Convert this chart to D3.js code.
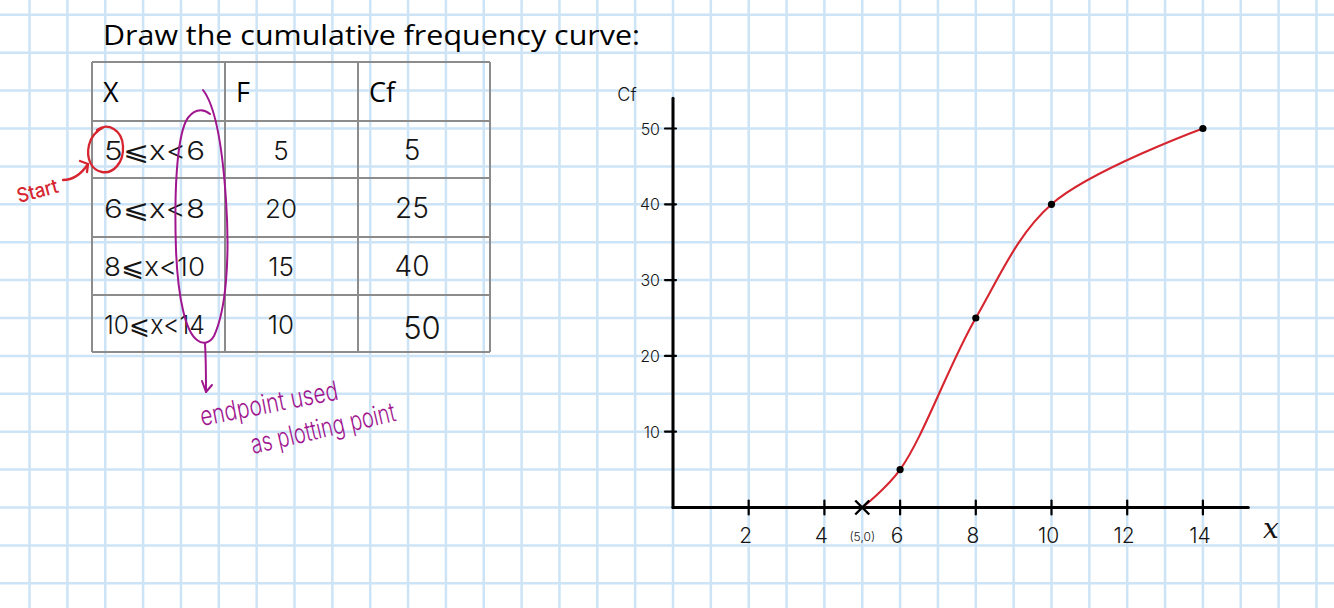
<!DOCTYPE html>
<html>
<head>
<meta charset="utf-8">
<script src="https://cdn.jsdelivr.net/npm/d3@7"></script>
<style>
  html, body { margin: 0; padding: 0; background: #ffffff; }
  svg { display: block; }
</style>
</head>
<body>
<svg id="chart" width="1334" height="608"></svg>
<script>
// ---------------- DATA ----------------
const title = "Draw the cumulative frequency curve:";
const headers = ["X", "F", "Cf"];
const classes = ["5⩽x<6", "6⩽x<8", "8⩽x<10", "10⩽x<14"];
const lowerBounds = [5, 6, 8, 10];
const upperBounds = [6, 8, 10, 14];
const freq = [5, 20, 15, 10];
const cumFreq = [5, 25, 40, 50];
const xTicks = [2, 4, 6, 8, 10, 12, 14];
const yTicks = [10, 20, 30, 40, 50];
const startLabel = "(5,0)";
const xAxisTitle = "x";
const yAxisTitle = "Cf";
const noteStart = "Start";
const noteLine1 = "endpoint used";
const noteLine2 = "as plotting point";

// ---------------- LAYOUT ----------------
const W = 1334, H = 608;
const svg = d3.select("#chart");
const handFont = "Inter, 'Noto Sans', sans-serif";
const typeFont = "'Open Sans', 'Noto Sans', sans-serif";
const red = "#d6252f", purple = "#a0168f", gridCol = "#cce4f6", ink = "#151515";

const unitX = 37.85;               // one grid square = 1 unit in x
const x = d3.scaleLinear().domain([0, 14]).range([673, 673 + 14 * unitX]);
const y = d3.scaleLinear().domain([0, 50]).range([507.5, 128.5]);

// background grid (one square = 1 x-unit = 5 cf-units)
const gGrid = svg.append("g");
gGrid.selectAll("line.v").data(d3.range(-18, 18)).join("line")
  .attr("x1", d => x(d)).attr("x2", d => x(d)).attr("y1", 0).attr("y2", H)
  .attr("stroke", gridCol).attr("stroke-width", 2.5);
gGrid.selectAll("line.h").data(d3.range(-15, 70, 5)).join("line")
  .attr("y1", d => y(d)).attr("y2", d => y(d)).attr("x1", 0).attr("x2", W)
  .attr("stroke", gridCol).attr("stroke-width", 2.5);

// ---------------- TITLE ----------------
svg.append("text").attr("x", 103).attr("y", 45)
  .attr("font-family", typeFont).attr("font-size", 27).attr("fill", "#000")
  .attr("textLength", 537).attr("lengthAdjust", "spacingAndGlyphs")
  .text(title);

// ---------------- TABLE ----------------
const colEdges = [92, 225, 358, 490];
const rowEdges = [62, 121, 178, 237, 295, 352];
const gT = svg.append("g");
gT.selectAll("line.c").data(colEdges).join("line")
  .attr("x1", d => d).attr("x2", d => d).attr("y1", rowEdges[0]).attr("y2", rowEdges[rowEdges.length - 1])
  .attr("stroke", "#8c8c8c").attr("stroke-width", 2);
gT.selectAll("line.r").data(rowEdges).join("line")
  .attr("y1", d => d).attr("y2", d => d).attr("x1", colEdges[0]).attr("x2", colEdges[colEdges.length - 1])
  .attr("stroke", "#8c8c8c").attr("stroke-width", 2);

gT.selectAll("text.hd").data(headers).join("text")
  .attr("x", (d, i) => colEdges[i] + 11).attr("y", (rowEdges[0] + rowEdges[1]) / 2 + 10)
  .attr("font-family", typeFont).attr("font-size", 27).attr("fill", "#000")
  .text(d => d);

const rowMid = i => (rowEdges[i + 1] + rowEdges[i + 2]) / 2;
gT.selectAll("text.cls").data(classes).join("text")
  .attr("x", 104).attr("y", (d, i) => rowMid(i) + 10)
  .attr("font-family", handFont).attr("font-weight", 300).attr("font-size", 26).attr("fill", ink)
  .attr("textLength", 101).attr("lengthAdjust", "spacingAndGlyphs")
  .text(d => d);
gT.selectAll("text.f").data(freq).join("text")
  .attr("x", 281).attr("y", (d, i) => rowMid(i) + 10).attr("text-anchor", "middle")
  .attr("font-family", handFont).attr("font-weight", 300).attr("font-size", 26).attr("fill", ink)
  .text(d => d);
gT.selectAll("text.cf").data(cumFreq).join("text")
  .attr("x", (d, i) => i === 3 ? 422 : 412).attr("y", (d, i) => rowMid(i) + (i === 3 ? 15 : 10))
  .attr("text-anchor", "middle")
  .attr("font-family", handFont).attr("font-weight", 300).attr("font-size", (d, i) => i === 3 ? 31 : 28).attr("fill", ink)
  .text(d => d);

// ---------------- ANNOTATIONS (table) ----------------
const gA = svg.append("g").attr("fill", "none").attr("stroke-linecap", "round").attr("stroke-linejoin", "round");
// red circle around the first lower bound
gA.append("path")
  .attr("d", "M97,130 C108,122 122,130 123,146 C124,163 113,174 102,172 C91,170 86,158 89,145 C91,136 96,131 104,127")
  .attr("stroke", red).attr("stroke-width", 2.3);
// red arrow
gA.append("path").attr("d", "M63,180 C72,180 80,176 88,164").attr("stroke", red).attr("stroke-width", 2.3);
gA.append("path").attr("d", "M80,161 L88,164 L87,172").attr("stroke", red).attr("stroke-width", 2.3);
svg.append("text").attr("transform", "translate(19,203) rotate(-15)")
  .attr("font-family", handFont).attr("font-weight", 500).attr("font-size", 20).attr("fill", red)
  .attr("textLength", 42).attr("lengthAdjust", "spacingAndGlyphs")
  .text(noteStart);

// purple loop around upper bounds
gA.append("path")
  .attr("d", "M203,90 C214,104 222,140 226,200 C230,260 226,310 214,336 C210,343 203,345 197,340 C186,332 178,300 176,250 C174,190 177,140 186,121 C192,110 202,107 210,114")
  .attr("stroke", purple).attr("stroke-width", 2);
gA.append("path").attr("d", "M205,343 C206,360 206,375 206,392").attr("stroke", purple).attr("stroke-width", 2);
gA.append("path").attr("d", "M202,381 L206,392 L212,385").attr("stroke", purple).attr("stroke-width", 2);
svg.append("text").attr("transform", "translate(202,426) rotate(-11)")
  .attr("font-family", handFont).attr("font-weight", 300).attr("font-size", 27).attr("fill", purple)
  .attr("textLength", 140).attr("lengthAdjust", "spacingAndGlyphs")
  .text(noteLine1);
svg.append("text").attr("transform", "translate(253,454) rotate(-13)")
  .attr("font-family", handFont).attr("font-weight", 300).attr("font-size", 27).attr("fill", purple)
  .attr("textLength", 148).attr("lengthAdjust", "spacingAndGlyphs")
  .text(noteLine2);

// ---------------- AXES ----------------
const gAx = svg.append("g").attr("stroke", "#000").attr("stroke-linecap", "round");
gAx.append("line").attr("x1", x(0)).attr("x2", x(0)).attr("y1", y(54)).attr("y2", y(0))
  .attr("stroke-width", 3);
gAx.append("line").attr("x1", x(0)).attr("x2", x(15.2)).attr("y1", y(0)).attr("y2", y(0))
  .attr("stroke-width", 3);
gAx.selectAll("line.yt").data(yTicks).join("line")
  .attr("x1", x(0) - 8).attr("x2", x(0) + 3).attr("y1", d => y(d)).attr("y2", d => y(d))
  .attr("stroke-width", 2.2);
gAx.selectAll("line.xt").data(xTicks).join("line")
  .attr("x1", d => x(d)).attr("x2", d => x(d)).attr("y1", y(0) - 7).attr("y2", y(0) + 7)
  .attr("stroke-width", 2.2);

svg.selectAll("text.yl").data(yTicks).join("text")
  .attr("x", x(0) - 13).attr("y", d => y(d) + 6).attr("text-anchor", "end")
  .attr("font-family", handFont).attr("font-weight", 300).attr("font-size", 16).attr("fill", ink)
  .text(d => d);
svg.selectAll("text.xl").data(xTicks).join("text")
  .attr("x", d => x(d) - 3).attr("y", 543).attr("text-anchor", "middle")
  .attr("font-family", handFont).attr("font-weight", 300).attr("font-size", 21).attr("fill", ink)
  .text(d => d);

svg.append("text").attr("x", 627).attr("y", 101).attr("text-anchor", "middle")
  .attr("font-family", handFont).attr("font-weight", 300).attr("font-size", 18).attr("fill", ink)
  .text(yAxisTitle);
svg.append("text").attr("x", 1271).attr("y", 538).attr("text-anchor", "middle")
  .attr("font-family", "'DejaVu Serif', serif").attr("font-style", "italic").attr("font-size", 28).attr("fill", ink)
  .text(xAxisTitle);

// ---------------- CURVE ----------------
const pts = [[lowerBounds[0], 0]].concat(upperBounds.map((u, i) => [u, cumFreq[i]]));
const line = d3.line().x(d => x(d[0])).y(d => y(d[1])).curve(d3.curveCatmullRom.alpha(0.5));
svg.append("path").datum(pts).attr("d", line)
  .attr("fill", "none").attr("stroke", red).attr("stroke-width", 2.1);

// start cross at (5,0)
const sx = x(lowerBounds[0]), sy = y(0);
svg.append("path").attr("d", `M${sx - 7},${sy - 7}L${sx + 7},${sy + 7}M${sx + 7},${sy - 7}L${sx - 7},${sy + 7}`)
  .attr("stroke", "#000").attr("stroke-width", 2.4);
svg.append("text").attr("x", sx).attr("y", 541).attr("text-anchor", "middle")
  .attr("font-family", handFont).attr("font-weight", 300).attr("font-size", 12).attr("fill", ink)
  .text(startLabel);

// plotted points
svg.selectAll("circle.pt").data(upperBounds.map((u, i) => [u, cumFreq[i]])).join("circle")
  .attr("cx", d => x(d[0])).attr("cy", d => y(d[1])).attr("r", 3.6).attr("fill", "#000");
</script>
</body>
</html>
